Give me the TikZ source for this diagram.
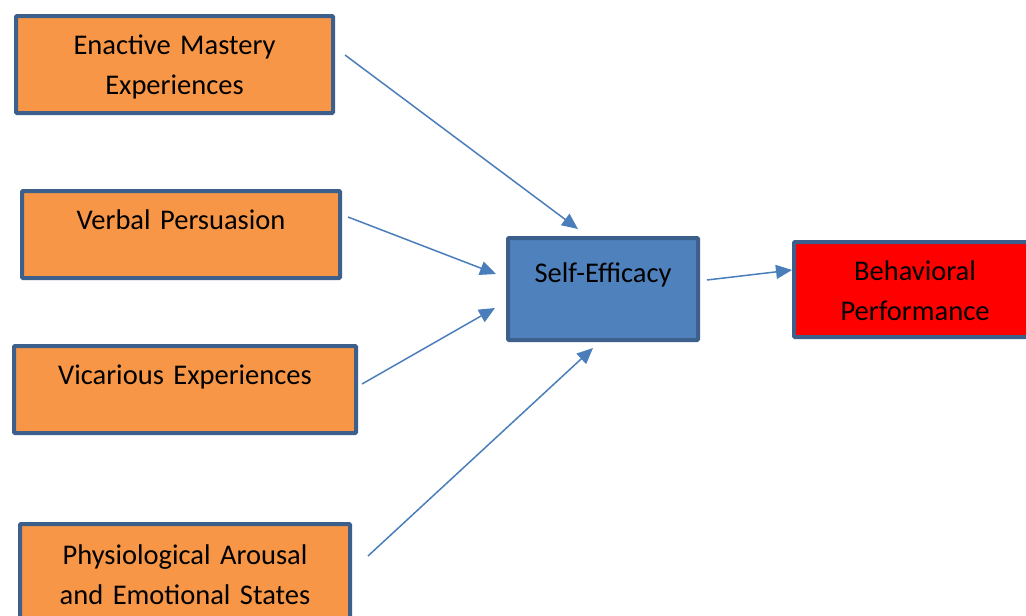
\documentclass[tikz,border=0pt]{standalone}
\usepackage{fontspec}
\setmainfont{Carlito}
\usetikzlibrary{arrows.meta}
\definecolor{edgeblue}{HTML}{3D5F8C}
\definecolor{srcorange}{HTML}{F79646}
\definecolor{effblue}{HTML}{4F81BD}
\definecolor{linkblue}{HTML}{4A7EBB}
\tikzset{
  box/.style={draw=edgeblue, line width=4pt, rounded corners=1pt, inner sep=0pt,
    align=center, anchor=north west, text height=38pt,
    font=\fontsize{28.5}{40}\selectfont},
  srcbox/.style={box, fill=srcorange},
  link/.style={draw=linkblue, line width=1.5pt, -{Triangle[length=16pt,width=14pt]}}
}
\begin{document}
\begin{tikzpicture}[x=1pt,y=-1pt]
            \useasboundingbox (0,0) rectangle (1026,616);
            \clip (0,0) rectangle (1026,616);
            % sources of self-efficacy
            \node [srcbox, text width=317pt, text depth=59pt] (enactive) at (14,14) {Enactive Mastery\\Experiences};
            \node [srcbox, text width=318pt, text depth=49pt] (verbal) at (20,189) {Verbal Persuasion};
            \node [srcbox, text width=342pt, text depth=49pt] (vicarious) at (12,344) {Vicarious Experiences};
            \node [srcbox, text width=330pt, text depth=100pt, text height=40pt] (physio) at (18,522) {Physiological Arousal\\and Emotional States};
            % middle and outcome
            \node [box, fill=effblue, text width=190pt, text height=44pt, text depth=58pt] (selfeff) at (506,236) {Self-Efficacy};
            \node [box, fill=red, text width=242pt, text depth=57pt] (perform) at (792,240) {Behavioral\\Performance};
            % free arrow ends
            \coordinate (enactive-out) at (345,55);
            \coordinate (verbal-out) at (348,217);
            \coordinate (vicarious-out) at (362,384);
            \coordinate (physio-out) at (368,556);
            \coordinate (selfeff-in1) at (578,229);
            \coordinate (selfeff-in2) at (496,274);
            \coordinate (selfeff-in3) at (495,308);
            \coordinate (selfeff-in4) at (593,348);
            \coordinate (selfeff-out) at (707,280);
            \coordinate (perform-in) at (792,270);
            \draw [link] (enactive-out) -- (selfeff-in1);
            \draw [link] (verbal-out) -- (selfeff-in2);
            \draw [link] (vicarious-out) -- (selfeff-in3);
            \draw [link] (physio-out) -- (selfeff-in4);
            \draw [link] (selfeff-out) -- (perform-in);
          \end{tikzpicture}
\end{document}
